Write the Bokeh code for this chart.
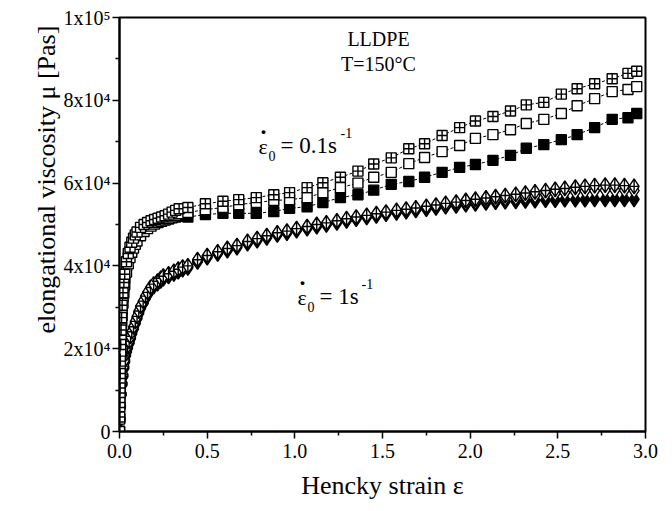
import math
from bokeh.plotting import figure
from bokeh.models import Range1d, FixedTicker, Label, ColumnDataSource, Title
from bokeh.embed import file_html
from bokeh.resources import INLINE

# ---------------- data (viscosity in kPa·s, converted to Pa·s below) ----------------
strain_sq = [0.0, 0.001, 0.002, 0.003, 0.004, 0.005, 0.007, 0.009, 0.012, 0.015, 0.02, 0.025,
             0.03, 0.04, 0.05, 0.06, 0.07, 0.08, 0.09, 0.10, 0.12, 0.14, 0.16, 0.18, 0.20, 0.22,
             0.24, 0.26, 0.28, 0.30, 0.32, 0.34,
             0.39, 0.49, 0.59, 0.68, 0.78, 0.88, 0.97, 1.07, 1.16, 1.26, 1.36, 1.45, 1.55, 1.65,
             1.74, 1.84, 1.94, 2.03, 2.13, 2.23, 2.32, 2.42, 2.52, 2.61, 2.71, 2.81, 2.90, 2.95]

sq_crossed = [0, 3.5, 7, 10.5, 14, 17, 21, 24.5, 27.5, 30.5, 33.5, 36, 38, 41, 43, 44.5, 45.7,
              46.7, 47.5, 48.2, 49.3, 50, 50.5, 50.9, 51.2, 51.5, 51.8, 52.1, 52.5, 53, 53.4, 53.8,
              54.1, 55.0, 55.6, 56.0, 56.5, 57.2, 57.7, 58.9, 60.1, 61.4, 62.9, 64.6, 66.1, 68.3,
              69.5, 71.5, 73.4, 75.0, 76.1, 77.4, 78.9, 79.5, 81.5, 82.8, 84.0, 85.2, 86.5, 87.0]
sq_open = [0, 3, 6, 9, 12, 15, 19, 22, 25, 28, 31, 33.5, 35.5, 38.5, 40.5, 42, 43.3, 44.3, 45.2,
           46, 47.3, 48.3, 49, 49.6, 50.1, 50.5, 50.8, 51.1, 51.4, 51.8, 52.2, 52.6,
           52.9, 53.6, 54.1, 54.8, 55.3, 55.8, 56.0, 56.5, 57.7, 58.9, 60.0, 61.4, 62.6, 64.7,
           66.2, 67.6, 69.1, 70.8, 71.7, 72.9, 74.4, 75.4, 76.8, 78.7, 80.4, 82.1, 82.6, 83.3]
sq_filled = [0, 3.2, 6.5, 9.8, 13, 16, 20, 23.5, 26.5, 29.5, 32.5, 35, 37, 40, 42, 43.5, 44.7,
             45.7, 46.5, 47.2, 48.4, 49.2, 49.8, 50.2, 50.5, 50.8, 51, 51.2, 51.4, 51.6, 51.8, 52.0,
             51.8, 52.4, 52.7, 52.7, 52.7, 53.1, 53.9, 54.3, 55.3, 56.5, 57.2, 58.3, 59.7, 60.4,
             61.4, 62.6, 63.8, 64.5, 65.5, 66.7, 68.4, 69.3, 70.5, 71.7, 73.4, 75.4, 75.8, 76.8]

strain_dm = [0, 0.003, 0.006, 0.01, 0.015, 0.02, 0.025, 0.03, 0.035, 0.04, 0.046, 0.055, 0.063,
             0.07, 0.08, 0.09, 0.10, 0.11, 0.12, 0.135, 0.148, 0.16, 0.177, 0.195, 0.217, 0.235,
             0.25, 0.28, 0.31, 0.335, 0.36,
             0.39, 0.445, 0.50, 0.56, 0.615, 0.67, 0.73, 0.785, 0.84, 0.90, 0.955, 1.01, 1.07,
             1.125, 1.18, 1.24, 1.295, 1.35, 1.41, 1.465, 1.52, 1.58, 1.635, 1.69, 1.75, 1.805,
             1.86, 1.92, 1.975, 2.03, 2.09, 2.145, 2.20, 2.26, 2.315, 2.37, 2.43, 2.485, 2.54,
             2.60, 2.655, 2.71, 2.77, 2.825, 2.88, 2.935]

dm_crossed = [0, 3.2, 6.3, 9.3, 11.8, 13.8, 15.8, 17.3, 18.8, 19.8, 20.6, 21.8, 23.0, 24.1, 25.3,
              26.6, 27.8, 29.1, 30.3, 31.5, 32.7, 33.6, 34.8, 35.6, 36.3, 37.0, 37.5, 38.1, 38.7,
              39.2, 39.7,
              40.0, 41.5, 42.5, 43.4, 44.2, 44.9, 45.9, 46.6, 47.3, 48.0, 48.4, 49.0, 49.5, 50.0,
              50.4, 50.9, 51.4, 51.8, 52.2, 52.6, 53.0, 53.4, 53.7, 54.0, 54.4, 54.7, 55.1, 55.4,
              55.8, 56.1, 56.4, 56.7, 57.0, 57.3, 57.6, 57.9, 58.2, 58.5, 58.7, 59.0, 59.2, 59.4,
              59.5, 59.5, 59.4, 59.2]
dm_open = [0, 3, 6, 9, 11.5, 13.5, 15.5, 17, 18.5, 19.5, 20.3, 21.5, 22.7, 23.8, 25, 26.3, 27.5,
           28.8, 30, 31.2, 32.4, 33.3, 34.5, 35.3, 36, 36.7, 37.2, 37.8, 38.4, 38.9, 39.4,
           39.8, 41.3, 42.3, 43.2, 44.0, 44.7, 45.7, 46.4, 47.1, 47.8, 48.2, 48.8, 49.3, 49.8,
           50.2, 50.7, 51.2, 51.6, 52.0, 52.4, 52.8, 53.1, 53.4, 53.7, 54.0, 54.3, 54.6, 54.9,
           55.2, 55.5, 55.8, 56.0, 56.3, 56.5, 56.8, 57.0, 57.3, 57.5, 57.7, 57.9, 58.1, 58.2,
           58.3, 58.3, 58.3, 58.2]
dm_filled = [0, 2.8, 5.7, 8.7, 11.2, 13.2, 15.2, 16.7, 18.2, 19.2, 20.0, 21.2, 22.4, 23.5, 24.7,
             26.0, 27.2, 28.5, 29.7, 30.9, 32.1, 33.0, 34.2, 35.0, 35.7, 36.4, 36.9, 37.5, 38.1,
             38.6, 39.1,
             39.5, 41.0, 42.0, 42.9, 43.7, 44.4, 45.4, 46.1, 46.8, 47.5, 47.9, 48.5, 49.0, 49.5,
             49.9, 50.4, 50.9, 51.3, 51.7, 52.1, 52.5, 52.8, 53.1, 53.4, 53.7, 54.0, 54.3, 54.5,
             54.8, 55.0, 55.2, 55.4, 55.5, 55.6, 55.7, 55.8, 55.9, 55.9, 56.0, 56.0, 56.0, 56.1,
             56.1, 56.1, 56.1, 56.1]

x_ticks = [0.0, 0.5, 1.0, 1.5, 2.0, 2.5, 3.0]
x_minor = [0.25, 0.75, 1.25, 1.75, 2.25, 2.75]
y_ticks = [0, 20000, 40000, 60000, 80000, 100000]
y_minor = [10000, 30000, 50000, 70000, 90000]
y_tick_labels = ["0", "2x10\u2074", "4x10\u2074", "6x10\u2074", "8x10\u2074", "1x10\u2075"]

FONT = "Liberation Serif"

def pa(vals):
    return [v * 1000.0 for v in vals]

# ---------------- figure ----------------
p = figure(width=672, height=511, output_backend="svg", toolbar_location=None,
           x_range=Range1d(0, 3.0), y_range=Range1d(0, 100000),
           min_border_left=119, min_border_right=27, min_border_top=17, min_border_bottom=80)
p.background_fill_color = "white"
p.border_fill_color = "white"
p.outline_line_color = "black"
p.outline_line_width = 2
p.grid.visible = False

for ax in (p.xaxis[0], p.yaxis[0]):
    ax.axis_line_width = 2
    ax.axis_line_color = "black"
    ax.major_tick_line_width = 1.5
    ax.minor_tick_line_width = 1.5
    ax.major_tick_out = 7
    ax.major_tick_in = 0
    ax.minor_tick_out = 4
    ax.minor_tick_in = 0
    ax.major_label_text_font = FONT
    ax.major_label_text_font_size = "20px"
    ax.major_label_text_color = "black"
    ax.axis_label_text_font = FONT
    ax.axis_label_text_font_size = "26px"
    ax.axis_label_text_font_style = "normal"
    ax.axis_label_text_color = "black"

p.xaxis.ticker = FixedTicker(ticks=x_ticks, minor_ticks=x_minor)
p.xaxis.major_label_overrides = {t: f"{t:.1f}" for t in x_ticks}
p.xaxis.major_label_standoff = 5
p.xaxis.axis_label = "Hencky strain \u03b5"
p.xaxis.axis_label_standoff = 10

p.yaxis.ticker = FixedTicker(ticks=y_ticks, minor_ticks=y_minor)
p.yaxis.major_label_overrides = dict(zip(y_ticks, y_tick_labels))
p.yaxis.major_label_standoff = 2

# y-axis title placed as a side title so it can be shifted upward like the original
ytitle = Title(text="elongational viscosity  \u03bc [Pas]", align="left", offset=98,
               text_font=FONT, text_font_size="26px", text_font_style="normal",
               text_color="black", vertical_align="bottom", standoff=0)
p.add_layout(ytitle, "left")

# ---------------- series ----------------
def series(xs, ys, marker, fill, size):
    src = ColumnDataSource(dict(x=xs, y=pa(ys)))
    p.line("x", "y", source=src, line_color="black", line_width=1, line_dash="3 2")
    p.scatter("x", "y", source=src, marker=marker, size=size, line_color="black",
              line_width=1.4, fill_color=fill)

series(strain_dm, dm_filled, "diamond", "black", 15)
series(strain_dm, dm_open, "diamond", "white", 15)
series(strain_dm, dm_crossed, "diamond_cross", "white", 15)
series(strain_sq, sq_filled, "square", "black", 10)
series(strain_sq, sq_open, "square", "white", 10)
series(strain_sq, sq_crossed, "square_cross", "white", 10)

# ---------------- annotations ----------------
def px2x(px):
    return (px - 119) / 526.0 * 3.0

def py2y(py):
    return (431 - py) / 414.0 * 100000

def lab(text, px, py, size, align="left", baseline="middle", style="normal"):
    p.add_layout(Label(x=px2x(px), y=py2y(py), text=text, text_font=FONT,
                       text_font_size=f"{size}px", text_align=align, text_baseline=baseline,
                       text_font_style=style, text_color="black"))

lab("LLDPE", 378, 38, 20, align="center")
lab("T=150\u00b0C", 378, 63, 20, align="center")

# epsilon-dot_0 = 0.1 s^-1
lab("\u03b5", 258, 146, 22)
lab("\u00b7", 259, 131, 24, style="bold")
lab("0", 268, 155, 14)
lab("= 0.1s", 280, 145, 23)
lab("-1", 340, 132, 14)

# epsilon-dot_0 = 1 s^-1
lab("\u03b5", 297, 297, 22)
lab("\u00b7", 298, 282, 24, style="bold")
lab("0", 307, 306, 14)
lab("= 1s", 319, 296, 23)
lab("-1", 361, 283, 14)

open("out.html", "w").write(file_html(p, INLINE))
